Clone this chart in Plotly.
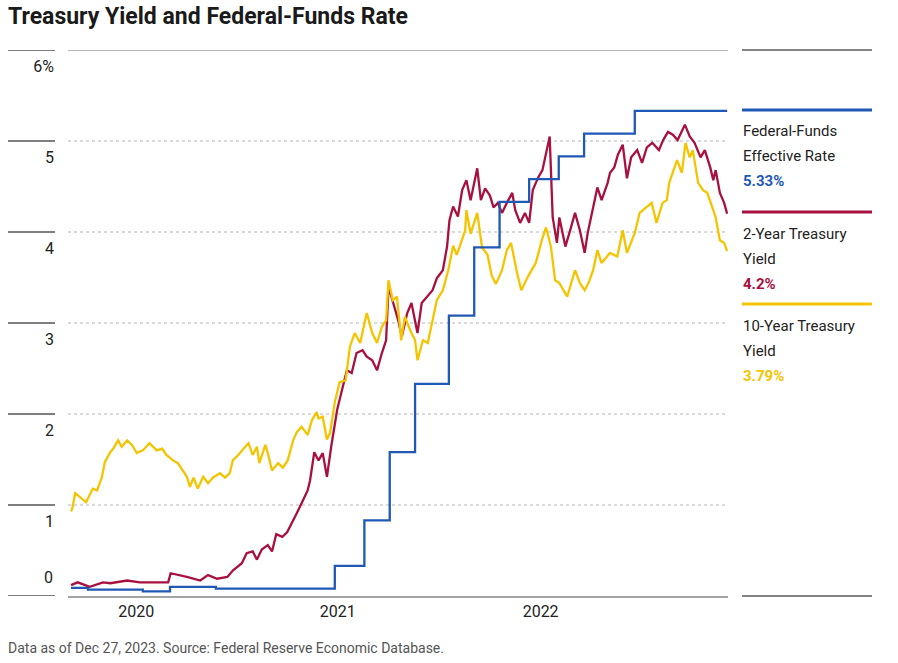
import plotly.graph_objects as go

# ---------------- data ----------------
tsy10_dates = ["2021-01-04","2021-01-06","2021-01-11","2021-01-19","2021-01-29","2021-02-09","2021-02-16","2021-02-24","2021-03-01","2021-03-10","2021-03-15","2021-03-23","2021-03-29","2021-04-07","2021-04-15","2021-04-23","2021-05-03","2021-05-14","2021-05-26","2021-06-04","2021-06-11","2021-06-22","2021-06-30","2021-07-08","2021-07-15","2021-07-20","2021-07-26","2021-08-02","2021-08-11","2021-08-19","2021-08-27","2021-09-08","2021-09-16","2021-09-24","2021-09-29","2021-10-08","2021-10-15","2021-10-25","2021-11-01","2021-11-08","2021-11-12","2021-11-22","2021-11-26","2021-12-03","2021-12-13","2021-12-21","2021-12-29","2022-01-07","2022-01-13","2022-01-21","2022-01-31","2022-02-07","2022-02-15","2022-02-18","2022-02-25","2022-03-04","2022-03-09","2022-03-17","2022-03-25","2022-04-04","2022-04-11","2022-04-19","2022-04-28","2022-05-09","2022-05-18","2022-05-26","2022-06-03","2022-06-10","2022-06-14","2022-06-21","2022-06-28","2022-07-05","2022-07-11","2022-07-20","2022-07-28","2022-08-01","2022-08-10","2022-08-18","2022-08-26","2022-09-02","2022-09-12","2022-09-21","2022-09-29","2022-10-05","2022-10-10","2022-10-19","2022-10-21","2022-10-28","2022-11-08","2022-11-16","2022-11-25","2022-12-02","2022-12-09","2022-12-19","2022-12-27","2023-01-03","2023-01-13","2023-01-20","2023-01-31","2023-02-13","2023-02-23","2023-03-02","2023-03-10","2023-03-17","2023-03-24","2023-04-06","2023-04-19","2023-04-27","2023-05-05","2023-05-12","2023-05-19","2023-05-26","2023-06-02","2023-06-16","2023-06-28","2023-07-07","2023-07-14","2023-07-27","2023-08-04","2023-08-16","2023-08-24","2023-09-01","2023-09-11","2023-09-18","2023-09-22","2023-10-05","2023-10-13","2023-10-19","2023-10-26","2023-10-31","2023-11-09","2023-11-17","2023-11-24","2023-12-04","2023-12-08","2023-12-15","2023-12-22","2023-12-27"]
tsy10_values = [0.93,0.96,1.13,1.09,1.03,1.18,1.16,1.30,1.47,1.58,1.62,1.71,1.64,1.71,1.66,1.57,1.60,1.68,1.60,1.62,1.55,1.49,1.46,1.38,1.31,1.20,1.30,1.18,1.31,1.24,1.30,1.35,1.30,1.35,1.49,1.55,1.60,1.68,1.55,1.64,1.46,1.66,1.57,1.38,1.46,1.41,1.49,1.71,1.80,1.86,1.77,1.93,2.02,1.95,1.97,1.72,1.79,2.13,2.35,2.37,2.74,2.89,2.78,3.11,2.89,2.78,2.96,3.03,3.47,3.25,3.29,2.81,3.07,2.92,2.81,2.59,2.81,2.78,3.03,3.25,3.36,3.58,3.85,3.75,3.84,4.02,4.24,3.98,4.21,3.83,3.75,3.52,3.43,3.58,3.80,3.88,3.55,3.36,3.51,3.66,3.91,4.05,3.84,3.47,3.44,3.29,3.58,3.44,3.36,3.45,3.58,3.80,3.66,3.77,3.73,4.02,3.77,3.99,4.21,4.28,4.32,4.10,4.32,4.35,4.54,4.79,4.65,4.98,4.82,4.90,4.54,4.46,4.43,4.24,4.16,3.91,3.88,3.79]

tsy2_dates = ["2021-01-04","2021-01-15","2021-02-04","2021-02-26","2021-03-10","2021-04-07","2021-04-28","2021-05-26","2021-06-14","2021-06-18","2021-07-02","2021-07-15","2021-08-06","2021-08-19","2021-09-03","2021-09-20","2021-09-29","2021-10-14","2021-10-22","2021-11-01","2021-11-08","2021-11-16","2021-11-26","2021-12-03","2021-12-10","2021-12-20","2021-12-28","2022-01-05","2022-01-13","2022-01-21","2022-01-31","2022-02-04","2022-02-11","2022-02-18","2022-02-25","2022-03-04","2022-03-11","2022-03-21","2022-03-29","2022-04-06","2022-04-14","2022-04-22","2022-05-02","2022-05-09","2022-05-18","2022-05-26","2022-06-03","2022-06-10","2022-06-14","2022-06-24","2022-06-30","2022-07-06","2022-07-15","2022-07-22","2022-08-01","2022-08-08","2022-08-17","2022-08-26","2022-09-02","2022-09-12","2022-09-19","2022-09-23","2022-09-29","2022-10-07","2022-10-14","2022-10-21","2022-10-28","2022-11-08","2022-11-14","2022-11-21","2022-11-29","2022-12-05","2022-12-12","2022-12-19","2022-12-27","2023-01-05","2023-01-10","2023-01-18","2023-01-26","2023-02-02","2023-02-08","2023-02-17","2023-02-24","2023-03-02","2023-03-08","2023-03-13","2023-03-20","2023-03-24","2023-04-03","2023-04-11","2023-04-19","2023-04-27","2023-05-05","2023-05-10","2023-05-19","2023-05-26","2023-06-02","2023-06-12","2023-06-16","2023-06-23","2023-06-29","2023-07-07","2023-07-14","2023-07-21","2023-07-31","2023-08-08","2023-08-16","2023-08-25","2023-09-05","2023-09-12","2023-09-20","2023-09-28","2023-10-06","2023-10-18","2023-10-26","2023-11-03","2023-11-13","2023-11-20","2023-11-29","2023-12-04","2023-12-08","2023-12-15","2023-12-22","2023-12-27"]
tsy2_values = [0.12,0.15,0.10,0.15,0.14,0.17,0.15,0.15,0.15,0.25,0.23,0.21,0.17,0.23,0.19,0.21,0.28,0.36,0.47,0.49,0.40,0.51,0.56,0.49,0.68,0.65,0.70,0.80,0.91,1.02,1.16,1.27,1.58,1.49,1.57,1.31,1.64,2.05,2.28,2.48,2.45,2.67,2.70,2.63,2.59,2.48,2.67,2.81,3.40,3.18,3.03,2.85,3.11,3.22,2.89,3.22,3.29,3.36,3.49,3.58,3.84,4.13,4.28,4.17,4.46,4.57,4.35,4.70,4.35,4.48,4.40,4.27,4.32,4.21,4.32,4.43,4.24,4.10,4.21,4.10,4.46,4.60,4.68,4.87,5.05,4.16,3.88,4.16,3.84,4.02,4.21,4.02,3.77,3.99,4.28,4.49,4.35,4.54,4.65,4.71,4.85,4.96,4.59,4.82,4.90,4.76,4.93,4.98,4.90,5.01,5.10,5.07,5.01,5.18,5.05,4.98,4.82,4.90,4.71,4.57,4.68,4.43,4.32,4.20]

ff_dates = ["2021-01-04","2021-02-01","2021-05-03","2021-06-17","2021-09-01","2022-03-17","2022-05-05","2022-06-16","2022-07-28","2022-09-22","2022-11-03","2022-12-15","2023-02-02","2023-03-23","2023-05-04","2023-07-27","2023-12-27"]
ff_values = [0.09,0.07,0.05,0.10,0.08,0.33,0.83,1.58,2.33,3.08,3.83,4.33,4.58,4.83,5.08,5.33,5.33]

x_tick_dates = ["2021-04-22","2022-03-22","2023-02-21"]
x_tick_labels = ["2020","2021","2022"]
y_tick_vals = [1,2,3,4,5,6]
y_tick_labels = ["1","2","3","4","5","6%"]
y_rule_vals = [0,1,2,3,4,5,6]
y_zero_label = "0"

series_names = ["Federal-Funds Effective Rate","2-Year Treasury Yield","10-Year Treasury Yield"]
legend_lines = [["Federal-Funds","Effective Rate","5.33%"],["2-Year Treasury","Yield","4.2%"],["10-Year Treasury","Yield","3.79%"]]

# ---------------- style ----------------
FONT = "Roboto, Liberation Sans, Arial, sans-serif"
BLUE = "#1F58B5"
RED = "#A8113F"
YELLOW = "#F5C400"
W, H = 898, 663
L, R, T, B = 68, 728, 50, 596

def px(xp):
    return (xp - L) / (R - L)

def py(yp):
    return (B - yp) / (B - T)

fig = go.Figure()
fig.add_trace(go.Scatter(x=tsy2_dates, y=tsy2_values, mode="lines", name=series_names[1],
                         line=dict(color=RED, width=2.3)))
fig.add_trace(go.Scatter(x=tsy10_dates, y=tsy10_values, mode="lines", name=series_names[2],
                         line=dict(color=YELLOW, width=2.3)))
fig.add_trace(go.Scatter(x=ff_dates, y=ff_values, mode="lines", name=series_names[0],
                         line=dict(color=BLUE, width=2.3, shape="hv")))

fig.update_layout(
    width=W, height=H,
    margin=dict(l=L, r=W - R, t=T, b=H - B, autoexpand=False),
    paper_bgcolor="white", plot_bgcolor="white",
    showlegend=False,
    font=dict(family=FONT, color="#222222"),
)

fig.update_xaxes(type="date", range=["2020-12-30", "2023-12-28 10:00"],
                 tickvals=x_tick_dates, ticktext=x_tick_labels,
                 showgrid=False, zeroline=False, ticks="", automargin=False,
                 showline=True, linecolor="#a3a3a3", linewidth=2.2,
                 tickfont=dict(family=FONT, size=16, color="#222222"))
fig.update_yaxes(range=[0, 6], tickvals=y_tick_vals, ticktext=y_tick_labels,
                 showgrid=True, gridcolor="#dadada", gridwidth=1.5, griddash="dot",
                 zeroline=False, ticks="", showline=False, automargin=False,
                 ticklabelshift=16, ticklabelstandoff=13,
                 tickfont=dict(family=FONT, size=16, color="#222222"))

shapes = []
# solid top line at 6%
shapes.append(dict(type="line", xref="paper", yref="y", x0=0, x1=1, y0=6, y1=6,
                   line=dict(color="#9e9e9e", width=1.5)))
# short dark rules in the label column
for v in y_rule_vals:
    shapes.append(dict(type="line", xref="paper", yref="y", x0=px(8), x1=px(55), y0=v, y1=v,
                       line=dict(color="#555555", width=1.5)))
# right panel rules
for yp in (50, 596):
    shapes.append(dict(type="line", xref="paper", yref="paper", x0=px(742), x1=px(872), y0=py(yp), y1=py(yp),
                       line=dict(color="#5a5a5a", width=1.5)))
for col, yp in [(BLUE, 110), (RED, 212), (YELLOW, 304)]:
    shapes.append(dict(type="line", xref="paper", yref="paper", x0=px(742), x1=px(872), y0=py(yp), y1=py(yp),
                       line=dict(color=col, width=3)))
fig.update_layout(shapes=shapes)

annotations = []
annotations.append(dict(text="<b>Treasury Yield and Federal-Funds Rate</b>",
                        xref="paper", yref="paper", x=px(6), y=py(16),
                        xanchor="left", yanchor="middle", showarrow=False,
                        font=dict(family=FONT, size=23, color="#1a1a1a")))
annotations.append(dict(text=y_zero_label, xref="paper", yref="y", x=px(55), y=0,
                        xanchor="right", yanchor="bottom", yshift=7, showarrow=False,
                        font=dict(family=FONT, size=16, color="#222222")))
centers = [[131, 156, 181], [234, 259, 284], [326, 351, 376]]
colors = [BLUE, RED, YELLOW]
for lines, cs, col in zip(legend_lines, centers, colors):
    for i, (txt, c) in enumerate(zip(lines, cs)):
        last = i == len(lines) - 1
        annotations.append(dict(text=f"<b>{txt}</b>" if last else txt,
                                xref="paper", yref="paper", x=px(741), y=py(c),
                                xanchor="left", yanchor="middle", showarrow=False,
                                font=dict(family=FONT, size=15, color=col if last else "#222222")))
annotations.append(dict(text="Data as of Dec 27, 2023. Source: Federal Reserve Economic Database.",
                        xref="paper", yref="paper", x=px(6), y=py(648),
                        xanchor="left", yanchor="middle", showarrow=False,
                        font=dict(family=FONT, size=14, color="#555555")))
fig.update_layout(annotations=annotations)

fig.write_html("out.html", config={"displayModeBar": False},
               post_script="document.body.style.margin='0';document.body.style.padding='0';")
